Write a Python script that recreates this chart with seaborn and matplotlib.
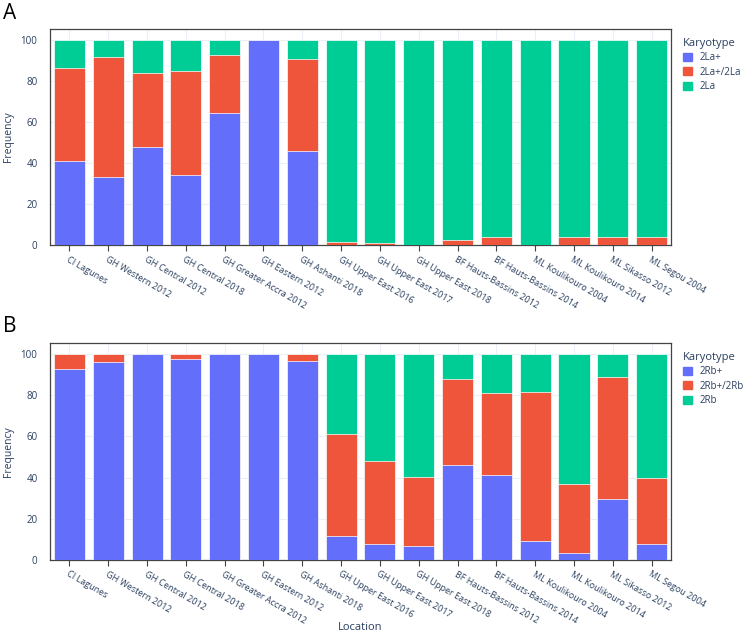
import numpy as np
import pandas as pd
import matplotlib
matplotlib.use("Agg")
import matplotlib.pyplot as plt
import matplotlib.patches as mpatches
import seaborn as sns

# Data
locations = ["CI Lagunes", "GH Western 2012", "GH Central 2012", "GH Central 2018",
             "GH Greater Accra 2012", "GH Eastern 2012", "GH Ashanti 2018",
             "GH Upper East 2016", "GH Upper East 2017", "GH Upper East 2018",
             "BF Hauts-Bassins 2012", "BF Hauts-Bassins 2014", "ML Koulikouro 2004",
             "ML Koulikouro 2014", "ML Sikasso 2012", "ML Segou 2004"]

la_labels = ["2La+", "2La+/2La", "2La"]
la_plus = [41.0, 33.2, 48.0, 34.3, 64.2, 100.0, 45.9, 0, 0, 0, 0, 0, 0, 0, 0, 0]
la_het = [45.2, 58.5, 35.9, 50.3, 28.5, 0, 44.8, 1.5, 0.8, 0, 2.6, 3.9, 0, 3.7, 3.7, 4.1]
la_std = [13.8, 8.3, 16.1, 15.4, 7.3, 0, 9.3, 98.5, 99.2, 100.0, 97.4, 96.1, 100.0, 96.3, 96.3, 95.9]

rb_labels = ["2Rb+", "2Rb+/2Rb", "2Rb"]
rb_plus = [92.4, 95.8, 100.0, 97.7, 100.0, 100.0, 96.3, 11.5, 7.9, 6.6, 46.2, 41.3, 9.1, 3.4, 29.7, 7.8]
rb_het = [7.6, 4.2, 0, 2.3, 0, 0, 3.7, 49.6, 40.1, 33.8, 41.5, 39.7, 72.6, 33.4, 59.1, 31.9]
rb_std = [0, 0, 0, 0, 0, 0, 0, 38.9, 52.0, 59.6, 12.3, 19.0, 18.3, 63.2, 11.2, 60.3]

colors = ["#636EFA", "#EF553B", "#00CC96"]
txt = "#2a3f5f"

sns.set_theme(style="white")
plt.rcParams['font.family'] = ['Open Sans', 'DejaVu Sans']

fig = plt.figure(figsize=(7.5, 6.38), dpi=100)
ax_a = fig.add_axes([0.0667, 0.616, 0.828, 0.3385])
ax_b = fig.add_axes([0.0667, 0.1223, 0.828, 0.3401])


def stacked(ax, plus, het, std, labels, show_xlabel):
    df = pd.DataFrame({"Location": locations, "a": plus, "b": het, "c": std})
    df["top"] = df["a"] + df["b"] + df["c"]
    df["mid"] = df["a"] + df["b"]
    # draw cumulative layers, tallest first
    for col, c in zip(["top", "mid", "a"], colors[::-1]):
        sns.barplot(data=df, x="Location", y=col, color=c, order=locations,
                    width=0.8, saturation=1, edgecolor="white", linewidth=0.5,
                    ax=ax, zorder=3)
    ax.set_xlim(-0.5, len(locations) - 0.5)
    ax.set_ylim(0, 105.26)
    ax.set_yticks([0, 20, 40, 60, 80, 100])
    ax.grid(True, color="#EBF0F8", linewidth=0.8, zorder=0)
    ax.set_axisbelow(True)
    for s in ax.spines.values():
        s.set_color("#444444")
        s.set_linewidth(0.9)
    ax.tick_params(axis="x", which="major", bottom=True, length=4, width=0.8,
                   color="#444444", labelsize=6.5, labelcolor=txt, pad=3)
    ax.tick_params(axis="y", left=False, labelsize=7, labelcolor=txt, pad=3)
    plt.setp(ax.get_xticklabels(), rotation=-30, ha="left", rotation_mode="anchor")
    ax.set_ylabel("Frequency", fontsize=7.5, color=txt)
    ax.yaxis.set_label_coords(-0.058, 0.5)
    if show_xlabel:
        ax.set_xlabel("Location", fontsize=8, color=txt, va="center")
        ax.xaxis.set_label_coords(0.5, -0.31)
    else:
        ax.set_xlabel("")
    handles = [mpatches.Patch(color=c, label=l) for c, l in zip(colors, labels)]
    leg = ax.legend(handles=handles, title="Karyotype", loc="upper left",
                    bbox_to_anchor=(1.005, 1.0), frameon=False, fontsize=7,
                    title_fontsize=8, handlelength=0.9, handleheight=0.9,
                    handletextpad=0.8, labelspacing=0.35, alignment="left")
    for t in leg.get_texts():
        t.set_color(txt)
    leg.get_title().set_color(txt)


stacked(ax_a, la_plus, la_het, la_std, la_labels, False)
stacked(ax_b, rb_plus, rb_het, rb_std, rb_labels, True)

fig.text(0.004, 0.995, "A", fontsize=15, va="top", ha="left", color="black")
fig.text(0.004, 0.504, "B", fontsize=15, va="top", ha="left", color="black")

fig.savefig("out.png", dpi=100)
